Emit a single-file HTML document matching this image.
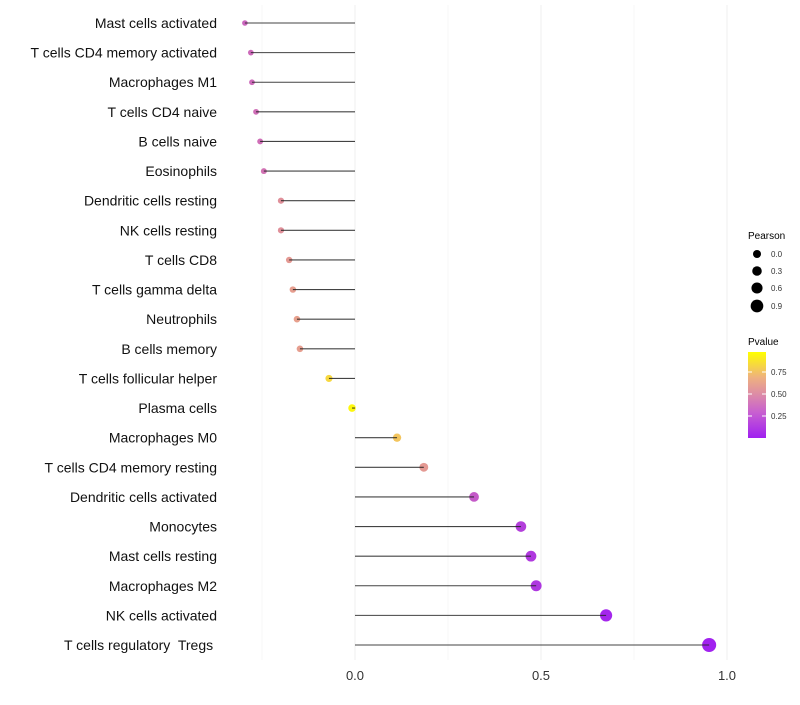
<!DOCTYPE html>
<html><head><meta charset="utf-8"><style>
body{margin:0;background:#fff;font-family:"Liberation Sans",sans-serif}
svg text{font-family:"Liberation Sans",sans-serif}
</style></head><body>
<svg id="c" width="800" height="700" xmlns="http://www.w3.org/2000/svg">
<defs><linearGradient id="pg" x1="0" y1="1" x2="0" y2="0">
<stop offset="0" stop-color="#a020f0"/><stop offset="0.3" stop-color="#c860d0"/><stop offset="0.5" stop-color="#dc8aa8"/><stop offset="0.7" stop-color="#eeb080"/><stop offset="1" stop-color="#ffff00"/></linearGradient></defs>
<g id="grid"></g><g id="marks"></g><g id="stems"></g><g id="labels"></g><g id="legend"></g>
</svg>
<script>
const categories=["Mast cells activated","T cells CD4 memory activated","Macrophages M1","T cells CD4 naive","B cells naive","Eosinophils","Dendritic cells resting","NK cells resting","T cells CD8","T cells gamma delta","Neutrophils","B cells memory","T cells follicular helper","Plasma cells","Macrophages M0","T cells CD4 memory resting","Dendritic cells activated","Monocytes","Mast cells resting","Macrophages M2","NK cells activated","T cells regulatory  Tregs "];
const pearson=[-0.296,-0.28,-0.277,-0.266,-0.255,-0.245,-0.199,-0.199,-0.177,-0.167,-0.156,-0.148,-0.07,-0.008,0.113,0.185,0.32,0.446,0.473,0.487,0.675,0.952];
const pvalues=[0.36,0.38,0.38,0.4,0.4,0.42,0.56,0.56,0.6,0.62,0.63,0.62,0.85,0.97,0.78,0.6,0.3,0.16,0.13,0.12,0.03,0.01];
const xTicks=[0,0.5,1];
const xTickLabels=["0.0","0.5","1.0"];
const xMinor=[-0.25,0.25,0.75];
const ns="http://www.w3.org/2000/svg";
const X=v=>355+v*372;
const Y=i=>23+i*(622/21);
const R=v=>Math.max(1.6,3.8+3.4*v);
function col(p){const st=[[0,[160,32,240]],[0.3,[196,90,200]],[0.5,[218,130,165]],[0.7,[238,176,128]],[1,[255,255,0]]];
for(let k=1;k<st.length;k++){if(p<=st[k][0]){const a=st[k-1],b=st[k],t=(p-a[0])/(b[0]-a[0]);return`rgb(${a[1].map((c,j)=>Math.round(c+(b[1][j]-c)*t)).join(",")})`;}}return"rgb(255,255,0)";}
function el(t,a,p){const e=document.createElementNS(ns,t);for(const k in a)e.setAttribute(k,a[k]);p.appendChild(e);return e;}
const grid=document.getElementById("grid"),marks=document.getElementById("marks"),stems=document.getElementById("stems"),labels=document.getElementById("labels"),legend=document.getElementById("legend");
xMinor.forEach(v=>{const l=el("line",{x1:X(v),x2:X(v),y1:5,y2:660,stroke:"#f7f7f7","stroke-width":1},grid);

});
xTicks.forEach((v,i)=>{const l=el("line",{x1:X(v),x2:X(v),y1:5,y2:660,stroke:"#efefef","stroke-width":1},grid);


const t=el("text",{x:X(v),y:680,"text-anchor":"middle","font-size":13,fill:"#333"},labels);t.textContent=xTickLabels[i];

});
categories.forEach((c,i)=>{const y=Y(i);
const d=el("circle",{cx:X(pearson[i]),cy:y,r:R(pearson[i]),fill:col(pvalues[i])},marks);


const s=el("line",{x1:X(0),x2:X(pearson[i]),y1:y,y2:y,stroke:"#222","stroke-width":1.1,"stroke-opacity":0.85},stems);


const t=el("text",{x:217,y:y+5,"text-anchor":"end","font-size":14,fill:"#111","xml:space":"preserve"},labels);t.setAttribute("style","white-space:pre");t.textContent=c;

});
let t=el("text",{x:748,y:239,"font-size":10,fill:"#000"},legend);t.textContent="Pearson";


[[0,"0.0",254],[0.3,"0.3",271],[0.6,"0.6",288],[0.9,"0.9",306]].forEach(a=>{
const c=el("circle",{cx:757,cy:a[2],r:4+a[0]*2.6,fill:"#000"},legend);


const tt=el("text",{x:771,y:a[2]+3,"font-size":8,fill:"#333"},legend);tt.textContent=a[1];

});
t=el("text",{x:748,y:345,"font-size":10,fill:"#000"},legend);t.textContent="Pvalue";


const bar=el("rect",{x:748,y:352,width:18,height:86,fill:"url(#pg)"},legend);


[[0.75,"0.75"],[0.5,"0.50"],[0.25,"0.25"]].forEach(a=>{const y=438-a[0]*88;
el("line",{x1:748,x2:752,y1:y,y2:y,stroke:"#fff"},legend);el("line",{x1:762,x2:766,y1:y,y2:y,stroke:"#fff"},legend);
const tt=el("text",{x:771,y:y+3,"font-size":8,fill:"#333"},legend);tt.textContent=a[1];

});
</script>
</body></html>
